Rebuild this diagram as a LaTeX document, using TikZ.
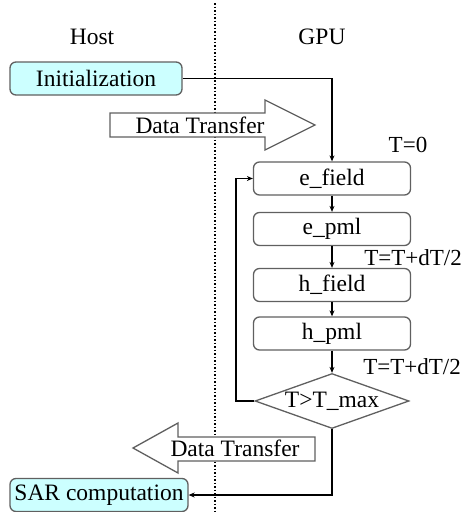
\documentclass[tikz,border=0pt]{standalone}
\usepackage{fontspec}
\setmainfont{Liberation Serif}
\usepackage{xcolor}
\usepackage{tikz}
\usetikzlibrary{positioning,shapes.geometric,arrows.meta}

\definecolor{hostfill}{HTML}{CCFFFF}
\definecolor{edgegray}{HTML}{606060}

\begin{document}
\begin{tikzpicture}[x=1pt, y=-1pt,
    txt/.style={font=\fontsize{23.5}{28}\selectfont, inner sep=0pt},
    hostbox/.style={txt, rectangle, draw=edgegray, fill=hostfill, line width=1.3pt, rounded corners=6pt, minimum height=33pt},
    kernel/.style={txt, rectangle, draw=edgegray, fill=white, line width=1.3pt, rounded corners=6pt, minimum width=157pt, minimum height=33pt},
    test/.style={txt, diamond, draw=edgegray, fill=white, line width=1.3pt, aspect=2.8, minimum width=154pt, minimum height=55pt},
    bigarrow/.style={draw=edgegray, fill=white, line width=1.3pt, line join=miter},
    flow/.style={-{Stealth[length=6pt,width=5pt]}, line width=1.1pt}]

\useasboundingbox (0,0) rectangle (461,512);

% Host / GPU split
\draw[dotted, line width=1.5pt] (215,3) -- (215,512);
\node[txt] (host) at (92,37) {Host};
\node[txt] (gpu) at (322,37) {GPU};

% Host side
\node[hostbox, minimum width=172pt] (init) at (96,78.5) {Initialization};
\node[hostbox, minimum width=178pt] (sar) at (99,495) {SAR computation};

% Transfer arrows
\draw[bigarrow] (110,113) -- (265,113) -- (265,100) -- (315,125) -- (265,150) -- (265,137) -- (110,137) -- cycle;
\node[txt] (tohost) at (200,125) {Data Transfer};
\draw[bigarrow] (133,448) -- (178,423) -- (178,437) -- (315,437) -- (315,461) -- (178,461) -- (178,473) -- cycle;
\node[txt] (togpu) at (235,448) {Data Transfer};

% GPU kernels
\node[kernel] (efield) at (332,178.5) {e\_field};
\node[kernel] (epml) at (332,229) {e\_pml};
\node[kernel] (hfield) at (332,285) {h\_field};
\node[kernel] (hpml) at (332,333.5) {h\_pml};
\node[test] (check) at (332,401) {T>T\_max};

% time stamps
\node[txt, font=\fontsize{23}{28}\selectfont] (t0) at (408,145) {T=0};
\node[txt, font=\fontsize{23}{28}\selectfont] (thalf) at (413,258) {T=T+dT/2};
\node[txt, font=\fontsize{23}{28}\selectfont] (tfull) at (412,367) {T=T+dT/2};

% flow
\coordinate (loop) at (236,401);
\draw[flow] (init.east) -| (efield.north);
\draw[flow] (efield) -- (epml);
\draw[flow] (epml) -- (hfield);
\draw[flow] (hfield) -- (hpml);
\draw[flow] (hpml) -- (check);
\draw[flow] (check.west) -- (loop) |- (efield.west);
\draw[flow] (check.south) |- (sar.east);

\end{tikzpicture}
\end{document}
